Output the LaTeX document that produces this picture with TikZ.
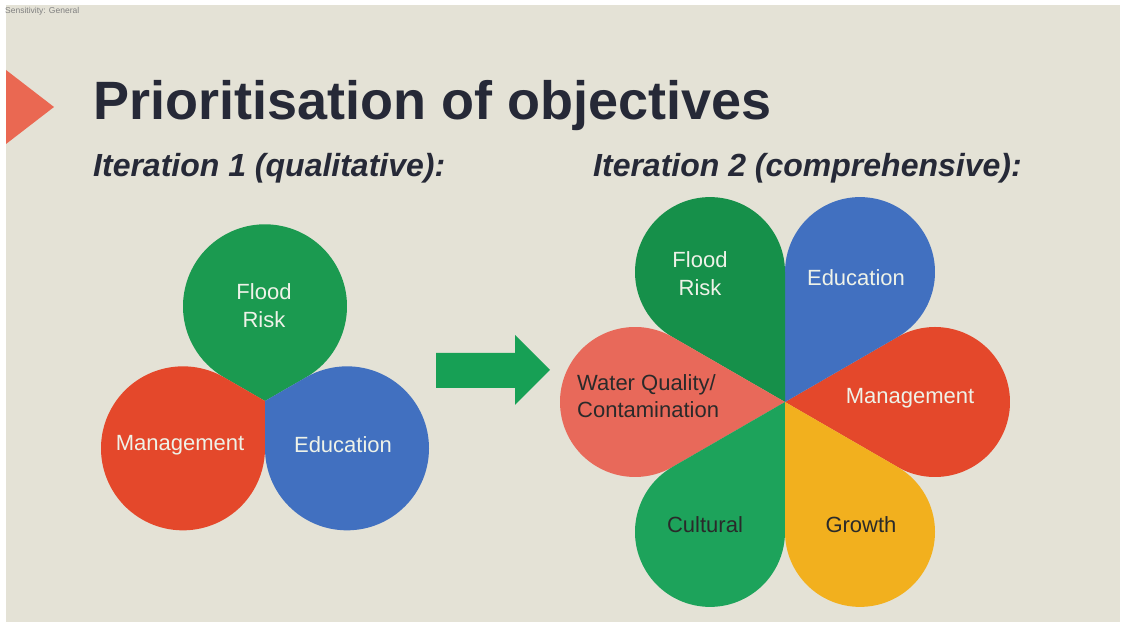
\documentclass[tikz,border=0pt]{standalone}
\usepackage{fontspec}
\setmainfont{Liberation Sans}
\definecolor{bgc}{HTML}{E4E2D6}
\definecolor{titlec}{HTML}{262937}
\definecolor{greenA}{HTML}{1B9A50}
\definecolor{greenB}{HTML}{16904A}
\definecolor{greenC}{HTML}{1DA35B}
\definecolor{blueA}{HTML}{4170C0}
\definecolor{redA}{HTML}{E4482B}
\definecolor{salmonA}{HTML}{E8695A}
\definecolor{yellowA}{HTML}{F2B01E}
\definecolor{arrowc}{HTML}{17A055}
\definecolor{trianglec}{HTML}{EA6852}
\definecolor{lighttext}{HTML}{EEF2E8}
\definecolor{darktext}{HTML}{2A2A2A}
\tikzset{
  lbl/.style={inner sep=0pt, font=\fontsize{22}{28}\selectfont, align=center},
  lightlbl/.style={lbl, text=lighttext},
  darklbl/.style={lbl, text=darktext},
  subtitle/.style={anchor=base west, inner sep=0pt, text=titlec, font=\fontsize{32}{38}\selectfont\bfseries\itshape}
}
\begin{document}
\begin{tikzpicture}[x=1pt,y=1pt]
\useasboundingbox (0,0) rectangle (1128,631);
\fill[white] (0,0) rectangle (1128,631);
\fill[bgc] (6,9) rectangle (1120,626);
% small header text
\node[anchor=west, inner sep=0pt, text=gray, font=\fontsize{8.5}{10}\selectfont] (sens) at (5,620) {Sensitivity: General};
% triangle marker
\fill[trianglec] (6,561) -- (54,524) -- (6,487) -- cycle;
% title
\node[anchor=base west, inner sep=0pt, text=titlec, font=\fontsize{54}{60}\selectfont\bfseries] (title) at (93,511) {Prioritisation of objectives};
\node[subtitle] (sub1) at (93,454) {Iteration 1 (qualitative):};
\node[subtitle] (sub2) at (593,454) {Iteration 2 (comprehensive):};

% left diagram (three teardrops)
\coordinate (P1) at (265,230);
\fill[greenA] (P1) -- ++(30:47.34) arc[start angle=-60, end angle=240, radius=82] -- cycle;
\fill[redA] (P1) -- ++(150:47.34) arc[start angle=60, end angle=360, radius=82] -- cycle;
\fill[blueA] (P1) -- ++(270:47.34) arc[start angle=180, end angle=480, radius=82] -- cycle;
\node[lightlbl] (l1) at (264,325) {Flood\\Risk};
\node[lightlbl] (l2) at (180,186) {Management};
\node[lightlbl] (l3) at (343,186) {Education};

% arrow
\coordinate (a1) at (436,278);
\fill[arrowc] (a1) -- (515,278) -- (515,296) -- (550,261) -- (515,226) -- (515,243) -- (436,243) -- cycle;

% right diagram (six petals)
\coordinate (P2) at (785,229);
\fill[redA] (P2) -- ++(-30:129.9) arc[start angle=-120, end angle=120, radius=75] -- cycle;
\fill[blueA] (P2) -- ++(30:129.9) arc[start angle=-60, end angle=180, radius=75] -- cycle;
\fill[greenB] (P2) -- ++(90:129.9) arc[start angle=0, end angle=240, radius=75] -- cycle;
\fill[salmonA] (P2) -- ++(150:129.9) arc[start angle=60, end angle=300, radius=75] -- cycle;
\fill[greenC] (P2) -- ++(210:129.9) arc[start angle=120, end angle=360, radius=75] -- cycle;
\fill[yellowA] (P2) -- ++(270:129.9) arc[start angle=180, end angle=420, radius=75] -- cycle;
\node[lightlbl] (r1) at (700,357) {Flood\\Risk};
\node[lightlbl] (r2) at (856,353) {Education};
\node[lightlbl] (r3) at (910,233) {Management};
\node[darklbl, align=left, anchor=west, font=\fontsize{22}{27}\selectfont] (r4) at (577,234.5) {Water Quality/\\Contamination};
\node[darklbl] (r5) at (705,106) {Cultural};
\node[darklbl] (r6) at (861,106) {Growth};
\end{tikzpicture}
\end{document}
